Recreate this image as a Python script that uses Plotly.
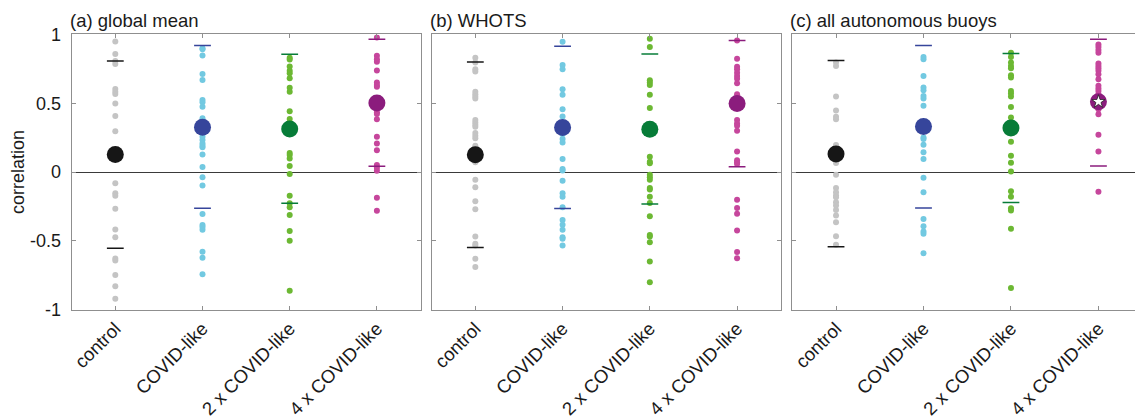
import plotly.graph_objects as go

categories = ["control", "COVID-like", "2 x COVID-like", "4 x COVID-like"]
panel_titles = ["(a) global mean", "(b) WHOTS", "(c) all autonomous buoys"]

# ---- (a) global mean ----
a_control = [0.948, 0.858, 0.807, 0.785, 0.604, 0.584, 0.567, 0.497, 0.407, 0.296,
             -0.082, -0.155, -0.172, -0.267, -0.417, -0.475, -0.628, -0.643, -0.749, -0.831, -0.921]
a_covid = [0.899, 0.892, 0.846, 0.713, 0.669, 0.524, 0.507, 0.475, 0.390, 0.257, 0.233, 0.208,
           0.191, 0.179, 0.128, 0.036, -0.039, -0.099, -0.305, -0.385, -0.400, -0.419, -0.580, -0.623, -0.744]
a_covid2 = [0.831, 0.817, 0.766, 0.735, 0.718, 0.681, 0.613, 0.584, 0.441, 0.385, 0.138, 0.124,
            0.099, 0.044, -0.015, -0.172, -0.228, -0.257, -0.313, -0.429, -0.499, -0.863]
a_covid4 = [0.977, 0.844, 0.819, 0.802, 0.737, 0.650, 0.633, 0.620, 0.434, 0.422, 0.383, 0.257,
            0.208, 0.158, 0.051, 0.031, 0.009, -0.187, -0.281]
a_mean = [0.128, 0.325, 0.313, 0.502]
a_upper = [0.807, 0.919, 0.856, 0.965]
a_lower = [-0.555, -0.264, -0.228, 0.041]

# ---- (b) WHOTS ----
b_control = [0.831, 0.795, 0.746, 0.730, 0.584, 0.565, 0.548, 0.534, 0.377, 0.360, 0.343, 0.328,
             0.283, 0.263, 0.246, 0.191, 0.070, -0.056, -0.111, -0.213, -0.271, -0.469, -0.522,
             -0.534, -0.631, -0.691]
b_covid = [0.947, 0.778, 0.746, 0.601, 0.561, 0.456, 0.403, 0.276, 0.239, 0.215, 0.094, 0.022,
           0.010, -0.063, -0.155, -0.179, -0.256, -0.348, -0.384, -0.420, -0.474, -0.486, -0.534]
b_covid2 = [0.968, 0.908, 0.667, 0.650, 0.633, 0.561, 0.466, 0.111, 0.075, 0.063, -0.020, -0.039,
            -0.056, -0.116, -0.128, -0.179, -0.225, -0.322, -0.457, -0.469, -0.510, -0.650, -0.802]
b_covid4 = [0.956, 0.823, 0.765, 0.746, 0.722, 0.698, 0.678, 0.645, 0.565, 0.377, 0.353, 0.336,
            0.300, 0.149, 0.085, 0.070, 0.058, -0.201, -0.262, -0.303, -0.425, -0.582, -0.626]
b_mean = [0.125, 0.323, 0.311, 0.497]
b_upper = [0.799, 0.913, 0.857, 0.956]
b_lower = [-0.549, -0.266, -0.232, 0.038]

# ---- (c) all autonomous buoys ----
c_control = [0.795, 0.771, 0.548, 0.447, 0.401, 0.384, 0.196, 0.065, -0.020, -0.116, -0.147,
             -0.171, -0.184, -0.220, -0.244, -0.276, -0.317, -0.365, -0.467, -0.529]
c_covid = [0.836, 0.819, 0.698, 0.614, 0.594, 0.553, 0.534, 0.481, 0.251, 0.239, 0.198, 0.143,
           0.094, -0.041, -0.147, -0.341, -0.394, -0.432, -0.449, -0.590]
c_covid2 = [0.867, 0.836, 0.795, 0.771, 0.754, 0.703, 0.686, 0.589, 0.570, 0.548, 0.473, 0.396,
            0.220, 0.118, 0.068, 0.003, -0.140, -0.179, -0.263, -0.280, -0.413, -0.843]
c_covid4 = [0.927, 0.908, 0.886, 0.867, 0.788, 0.771, 0.754, 0.735, 0.710, 0.674, 0.626, 0.606,
            0.589, 0.565, 0.456, 0.420, 0.270, 0.149, -0.143]
c_mean = [0.130, 0.331, 0.319, 0.511]
c_upper = [0.811, 0.920, 0.862, 0.964]
c_lower = [-0.544, -0.261, -0.222, 0.043]
c_significant = [False, False, False, True]

y_ticks = [-1, -0.5, 0, 0.5, 1]
y_ticktext = ["-1", "-0.5", "0", "0.5", "1"]

panels = [
    ([a_control, a_covid, a_covid2, a_covid4], a_mean, a_upper, a_lower, [False] * 4),
    ([b_control, b_covid, b_covid2, b_covid4], b_mean, b_upper, b_lower, [False] * 4),
    ([c_control, c_covid, c_covid2, c_covid4], c_mean, c_upper, c_lower, c_significant),
]

dot_colors = ["#c4c4c4", "#72c9e1", "#6cb833", "#c6469c"]
big_colors = ["#161616", "#36459b", "#077c38", "#8b1c7d"]

W, H = 1135, 419
x_domains = [[71.7 / W, 420.5 / W], [431.7 / W, 780.7 / W], [792.3 / W, 1.0]]
y_domain = [(H - 309.6) / H, (H - 34.4) / H]
x_ranges = [[-0.5, 3.5], [-0.5, 3.5], [-0.5, 3.418]]

fig = go.Figure()
FONT = "Liberation Sans, Arial, sans-serif"
axis_col = "#8f8f8f"

for p, (series, means, upper, lower, sig) in enumerate(panels):
    xa = "x" if p == 0 else f"x{p + 1}"
    ya = "y" if p == 0 else f"y{p + 1}"
    for i, vals in enumerate(series):
        fig.add_trace(go.Scatter(
            x=[categories[i]] * len(vals), y=vals, mode="markers",
            marker=dict(size=6, color=dot_colors[i], line=dict(width=0)),
            xaxis=xa, yaxis=ya, showlegend=False, hoverinfo="y"))
    for i in range(4):
        fig.add_trace(go.Scatter(
            x=[categories[i]], y=[means[i]], mode="markers",
            marker=dict(size=17, color=big_colors[i], line=dict(width=0)),
            xaxis=xa, yaxis=ya, showlegend=False))
        fig.add_trace(go.Scatter(
            x=[categories[i], categories[i]], y=[upper[i], lower[i]], mode="markers",
            marker=dict(symbol="line-ew", size=12, line=dict(width=1.5, color=big_colors[i])),
            xaxis=xa, yaxis=ya, showlegend=False))
        if sig[i]:
            fig.add_trace(go.Scatter(
                x=[categories[i]], y=[means[i]], mode="markers",
                marker=dict(symbol="star", size=10, color="white",
                            line=dict(width=0.8, color="#222222")),
                xaxis=xa, yaxis=ya, showlegend=False))

    xkey = "xaxis" if p == 0 else f"xaxis{p + 1}"
    ykey = "yaxis" if p == 0 else f"yaxis{p + 1}"
    fig.update_layout(**{
        xkey: dict(
            domain=x_domains[p], anchor=ya, type="category", automargin=False,
            categoryorder="array", categoryarray=categories, range=x_ranges[p],
            showline=True, linecolor=axis_col, linewidth=1, mirror="ticks",
            ticks="inside", ticklen=4, tickcolor=axis_col, tickangle=-45,
            tickfont=dict(family=FONT, size=18.5, color="#1a1a1a"),
            ticklabelstandoff=0,
            showgrid=False, zeroline=False, fixedrange=True),
        ykey: dict(
            domain=y_domain, anchor=xa, range=[-1, 1], automargin=False,
            tickvals=y_ticks, ticktext=y_ticktext, showticklabels=(p == 0),
            showline=True, linecolor=axis_col, linewidth=1,
            mirror=("ticks" if p < 2 else False),
            ticks="inside", ticklen=4, tickcolor=axis_col,
            tickfont=dict(family=FONT, size=18, color="#1a1a1a"),
            ticklabelstandoff=6,
            showgrid=False, zeroline=True, zerolinecolor="#3a3a3a", zerolinewidth=1,
            fixedrange=True),
    })
    fig.add_annotation(
        text=panel_titles[p], xref="paper", yref="paper",
        x=x_domains[p][0] - 4 / W, y=y_domain[1] + 1 / H, xanchor="left", yanchor="bottom",
        showarrow=False, font=dict(family=FONT, size=18.5, color="#1a1a1a"))

fig.add_annotation(
    text="correlation", xref="paper", yref="paper", x=18 / W, y=(H - 172) / H,
    textangle=-90, xanchor="center", yanchor="middle", showarrow=False,
    font=dict(family=FONT, size=18, color="#1a1a1a"))

fig.update_layout(
    width=W, height=H, margin=dict(l=0, r=0, t=0, b=0),
    paper_bgcolor="white", plot_bgcolor="white", showlegend=False)

fig.write_html("out.html")
